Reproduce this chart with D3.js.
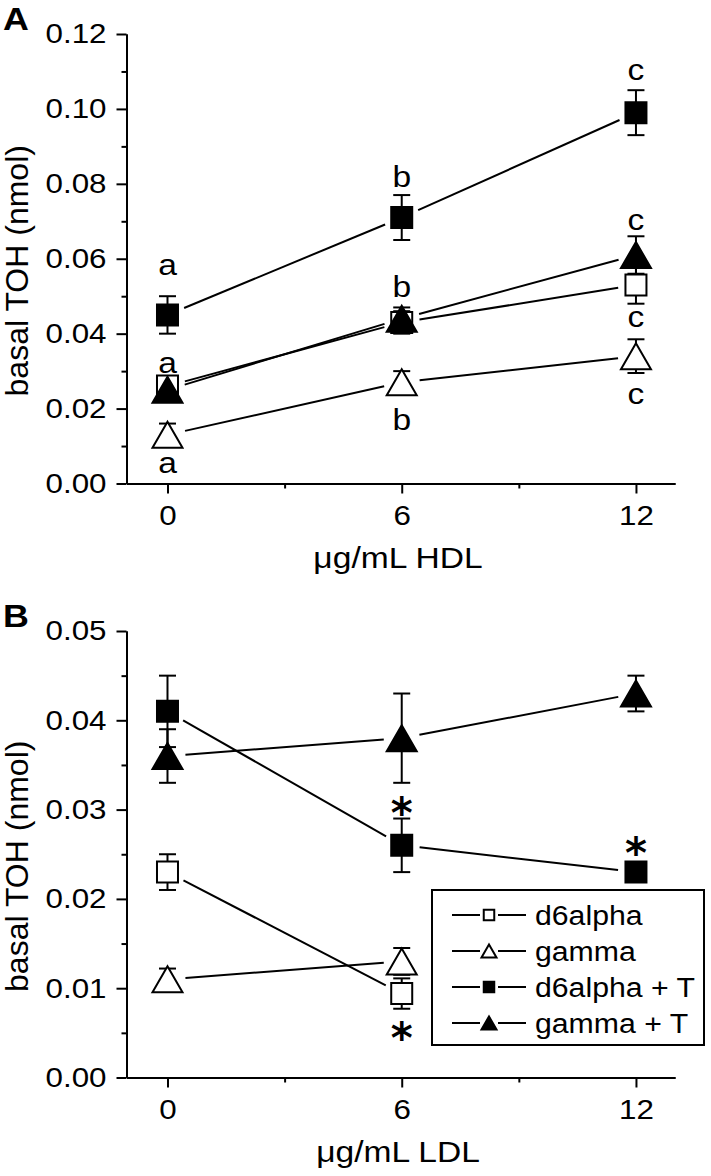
<!DOCTYPE html>
<html><head><meta charset="utf-8">
<script src="https://cdn.jsdelivr.net/npm/d3@7"></script>
<style>
body{margin:0;background:#fff}
text{font-family:"Liberation Sans",Arial,sans-serif;fill:#000}
</style>
</head><body>
<svg id="c" width="711" height="1176"></svg>
<script>
// ---------- DATA ----------
const doses = [0, 6, 12];
const seriesNames = ["d6alpha", "gamma", "d6alpha + T", "gamma + T"];
const yTicksA = [0.00, 0.02, 0.04, 0.06, 0.08, 0.10, 0.12];
const yTicksB = [0.00, 0.01, 0.02, 0.03, 0.04, 0.05];
const xTickLabels = ["0", "6", "12"];

// Panel A (HDL)
const hdlD6alpha = [0.026, 0.043, 0.053];
const hdlD6alphaErr = [0.002, 0.003, 0.005];
const hdlGamma = [0.013, 0.027, 0.034];
const hdlGammaErr = [0.003, 0.003, 0.0045];
const hdlD6alphaT = [0.045, 0.071, 0.099];
const hdlD6alphaTErr = [0.005, 0.006, 0.006];
const hdlGammaT = [0.025, 0.044, 0.061];
const hdlGammaTErr = [0.003, 0.003, 0.005];
// significance letters: dose, value position, letter
const hdlLetters = [
  [0, 0.0557, "a"], [0, 0.0296, "a"], [0, 0.0029, "a"],
  [6, 0.0792, "b"], [6, 0.0499, "b"], [6, 0.0144, "b"],
  [12, 0.1077, "c"], [12, 0.0677, "c"], [12, 0.0419, "c"], [12, 0.0211, "c"]
];

// Panel B (LDL)
const ldlD6alpha = [0.023, 0.0094, null];
const ldlD6alphaErr = [0.002, 0.0017, null];
const ldlGamma = [0.011, 0.013, null];
const ldlGammaErr = [0.0012, 0.0015, null];
const ldlD6alphaT = [0.041, 0.026, 0.023];
const ldlD6alphaTErr = [0.004, 0.003, 0.0008];
const ldlGammaT = [0.036, 0.038, 0.043];
const ldlGammaTErr = [0.003, 0.005, 0.002];
const ldlStars = [[6, 0.0304], [12, 0.0259], [6, 0.0052]];

// ---------- DRAWING ----------
const svg = d3.select("#c");
const SX = 1.12;
const shapes = [
  {shape: "square", filled: false},
  {shape: "triangle", filled: false},
  {shape: "square", filled: true},
  {shape: "triangle", filled: true}
];

function symPath(shape, k) {
  k = k || 1;
  if (shape === "square") { const h = 10.5 * k; return `M${-h},${-h}H${h}V${h}H${-h}Z`; }
  return `M0,${-13 * k}L${15 * k},${13 * k}H${-15 * k}Z`;
}

function txt(g, x, y, s, size, anchor, weight) {
  return g.append("text")
    .attr("transform", `translate(${x},${y}) scale(${SX},1)`)
    .attr("text-anchor", anchor || "middle")
    .style("font-size", size + "px")
    .style("font-weight", weight || "normal")
    .text(s);
}

function drawPanel(cfg) {
  const x = d3.scaleLinear().domain([-1.05, 13]).range([126.5, 675]);
  const y = d3.scaleLinear().domain([0, cfg.yMax]).range([cfg.bottom, cfg.top]);
  const g = svg.append("g");

  const styleAxis = sel => {
    sel.attr("font-size", null).attr("font-family", null);
    sel.selectAll(".domain").attr("stroke-width", 2);
    sel.selectAll(".tick line").attr("stroke-width", 2);
    sel.selectAll(".tick text").each(function () {
      const t = d3.select(this);
      const xx = +t.attr("x") || 0, yy = +t.attr("y") || 0;
      t.attr("transform", `translate(${xx},${yy}) scale(${SX},1)`).attr("x", 0).attr("y", 0)
        .style("font-size", "28px");
    });
  };

  // y axis
  const ax0 = x.range()[0];
  g.append("g").attr("transform", `translate(${ax0},0)`)
    .call(d3.axisLeft(y).tickValues(cfg.minor).tickSize(5).tickFormat("").tickSizeOuter(0))
    .call(styleAxis);
  g.append("g").attr("transform", `translate(${ax0},0)`)
    .call(d3.axisLeft(y).tickValues(cfg.yTicks).tickSize(10).tickPadding(10).tickSizeOuter(0).tickFormat(d3.format(".2f")))
    .call(styleAxis);
  // x axis
  g.append("g").attr("transform", `translate(0,${cfg.bottom})`)
    .call(d3.axisBottom(x).tickValues([3, 9]).tickSize(5).tickFormat("").tickSizeOuter(0))
    .call(styleAxis);
  g.append("g").attr("transform", `translate(0,${cfg.bottom})`)
    .call(d3.axisBottom(x).tickValues(doses).tickSize(10).tickPadding(12).tickSizeOuter(0)
      .tickFormat((d, i) => xTickLabels[i]))
    .call(styleAxis);

  // axis titles
  txt(g, 398, cfg.bottom + 84, cfg.xTitle, 30, "middle");
  g.append("text")
    .attr("transform", `translate(28,${(cfg.top + cfg.bottom) / 2 + 12}) rotate(-90)`)
    .attr("text-anchor", "middle").style("font-size", "32px")
    .text("basal TOH (nmol)");
  txt(g, 3, cfg.top - 4, cfg.panel, 32, "start", "bold");

  // series
  cfg.series.forEach((s, si) => {
    const pts = doses.map((d, i) => ({d, v: s.vals[i], e: s.errs[i]})).filter(p => p.v != null);
    for (let i = 0; i < pts.length - 1; i++) {
      const x1 = x(pts[i].d), y1 = y(pts[i].v), x2 = x(pts[i + 1].d), y2 = y(pts[i + 1].v);
      const L = Math.hypot(x2 - x1, y2 - y1), gap = 18;
      const ux = (x2 - x1) / L, uy = (y2 - y1) / L;
      g.append("line")
        .attr("x1", x1 + ux * gap).attr("y1", y1 + uy * gap)
        .attr("x2", x2 - ux * gap).attr("y2", y2 - uy * gap)
        .attr("stroke", "#000").attr("stroke-width", 2);
    }
  });
  cfg.series.forEach((s, si) => {
    const pts = doses.map((d, i) => ({d, v: s.vals[i], e: s.errs[i]})).filter(p => p.v != null);
    pts.forEach(p => {
      const cx = x(p.d), yt = y(p.v + p.e), yb = y(p.v - p.e);
      g.append("line").attr("x1", cx).attr("x2", cx).attr("y1", yt).attr("y2", yb)
        .attr("stroke", "#000").attr("stroke-width", 2);
      [yt, yb].forEach(yy => g.append("line").attr("x1", cx - 8.5).attr("x2", cx + 8.5)
        .attr("y1", yy).attr("y2", yy).attr("stroke", "#000").attr("stroke-width", 2));
    });
  });
  cfg.series.forEach((s, si) => {
    const st = shapes[si];
    const pts = doses.map((d, i) => ({d, v: s.vals[i]})).filter(p => p.v != null);
    g.selectAll(null).data(pts).enter().append("path")
      .attr("transform", p => `translate(${x(p.d)},${y(p.v)})`)
      .attr("d", symPath(st.shape))
      .attr("fill", st.filled ? "#000" : "#fff")
      .attr("stroke", "#000").attr("stroke-width", 2).attr("stroke-linejoin", "miter");
  });

  (cfg.letters || []).forEach(l => txt(g, x(l[0]), y(l[1]), l[2], 30, "middle"));
  (cfg.stars || []).forEach(s => {
    g.append("text").attr("x", x(s[0])).attr("y", y(s[1]) + 22)
      .attr("text-anchor", "middle")
      .style("font-family", "'DejaVu Sans',sans-serif").style("font-weight", "bold").style("font-size", "42px")
      .text("*");
  });
  return {g, x, y};
}

drawPanel({
  panel: "A", top: 34, bottom: 483.5, yMax: 0.12, yTicks: yTicksA,
  minor: d3.range(0.01, 0.12, 0.02), xTitle: "\u03bcg/mL HDL",
  series: [
    {vals: hdlD6alpha, errs: hdlD6alphaErr},
    {vals: hdlGamma, errs: hdlGammaErr},
    {vals: hdlD6alphaT, errs: hdlD6alphaTErr},
    {vals: hdlGammaT, errs: hdlGammaTErr}
  ],
  letters: hdlLetters
});

drawPanel({
  panel: "B", top: 631, bottom: 1077.5, yMax: 0.05, yTicks: yTicksB,
  minor: d3.range(0.005, 0.05, 0.01), xTitle: "\u03bcg/mL LDL",
  series: [
    {vals: ldlD6alpha, errs: ldlD6alphaErr},
    {vals: ldlGamma, errs: ldlGammaErr},
    {vals: ldlD6alphaT, errs: ldlD6alphaTErr},
    {vals: ldlGammaT, errs: ldlGammaTErr}
  ],
  stars: ldlStars
});

// legend
const lg = svg.append("g").attr("transform", "translate(432,890)");
lg.append("rect").attr("x", 0).attr("y", 0).attr("width", 272).attr("height", 155)
  .attr("fill", "#fff").attr("stroke", "#000").attr("stroke-width", 2);
seriesNames.forEach((n, i) => {
  const cy = 25 + i * 36;
  lg.append("line").attr("x1", 20).attr("x2", 94).attr("y1", cy).attr("y2", cy)
    .attr("stroke", "#000").attr("stroke-width", 2);
  const st = shapes[i];
  lg.append("rect").attr("x", 48).attr("y", cy - 9).attr("width", 18).attr("height", 18).attr("fill", "#fff");
  lg.append("path").attr("transform", `translate(57,${cy})`).attr("d", symPath(st.shape, 0.5))
    .attr("fill", st.filled ? "#000" : "#fff").attr("stroke", "#000").attr("stroke-width", 2);
  txt(lg, 103, cy + 10, n, 27, "start");
});
</script>
</body></html>
